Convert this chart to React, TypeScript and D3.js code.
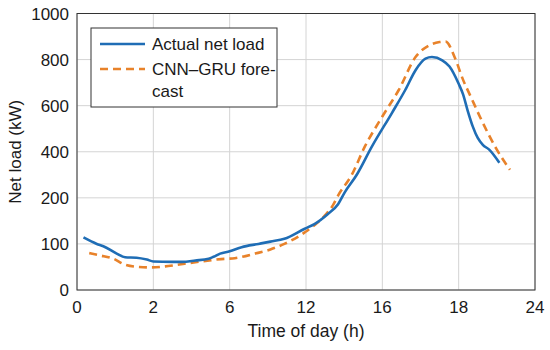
import * as d3 from "d3";

// tick values — both axes are evenly spaced per tick in the source
const xTicks = [0, 2, 6, 12, 16, 18, 24];
const yTicks = [0, 100, 200, 400, 600, 800, 1000];

// actual net load, [hour, kW]
const actualHours = [0.17, 0.52, 0.69, 1.04, 1.26, 1.56, 1.83, 2.0, 2.97, 3.5, 4.2, 4.9, 5.15, 5.5, 6.0, 6.94, 8.26, 9.2, 10.3, 11.9, 12.44, 13.15, 13.68, 14.03, 14.66, 15.45, 16.25, 16.6, 16.87, 17.13, 17.3, 17.57, 17.76, 18.0, 18.34, 18.7, 19.12, 19.5, 19.9, 20.4, 21.2];
const actualLoad = [114, 100, 95, 79, 71, 70, 66, 62, 61, 61, 64, 68, 72, 79, 84, 93, 100, 105, 111, 133, 143, 165, 186, 224, 300, 422, 568, 668, 754, 804, 811, 797, 770, 695, 650, 580, 508, 460, 430, 409, 352];

// CNN-GRU forecast
const forecastHours = [0.32, 0.6, 0.95, 1.26, 1.63, 1.97, 2.78, 3.64, 4.5, 5.55, 6.4, 8.0, 9.2, 10.3, 11.9, 12.97, 13.4, 13.68, 14.38, 15.08, 16.0, 16.43, 16.87, 17.23, 17.5, 17.66, 17.9, 18.34, 19.0, 19.67, 21.0, 22.03];
const forecastLoad = [80, 75, 68, 55, 50, 49, 52, 57, 62, 67, 69, 79, 88, 100, 125, 161, 183, 210, 297, 422, 553, 668, 811, 862, 876, 878, 808, 713, 633, 552, 409, 322];

const W = 550;
const H = 350;
const left = 77;
const right = 535;
const top = 13.5;
const bottom = 290;

const BLUE = "#1f6db5";
const ORANGE = "#e8822a";
const FONT = "'Liberation Sans', Arial, Helvetica, sans-serif";

export default function App() {
  const x = d3
    .scaleLinear()
    .domain(xTicks)
    .range(xTicks.map((_, i) => left + ((right - left) * i) / (xTicks.length - 1)));
  const y = d3
    .scaleLinear()
    .domain(yTicks)
    .range(yTicks.map((_, i) => bottom - ((bottom - top) * i) / (yTicks.length - 1)));

  const line = d3
    .line<[number, number]>()
    .x((d) => x(d[0]))
    .y((d) => y(d[1]))
    .curve(d3.curveMonotoneX);

  const actual = actualHours.map((h, i) => [h, actualLoad[i]] as [number, number]);
  const forecast = forecastHours.map((h, i) => [h, forecastLoad[i]] as [number, number]);

  return (
    <svg
      width={W}
      height={H}
      style={{ position: "absolute", left: 0, top: 0, background: "#fff" }}
      fontFamily={FONT}
    >
      {/* grid */}
      {xTicks.map((t) => (
        <line key={"gx" + t} x1={x(t)} x2={x(t)} y1={top} y2={bottom} stroke="#d4d4d4" strokeWidth={1} />
      ))}
      {yTicks.map((t) => (
        <line key={"gy" + t} x1={left} x2={right} y1={y(t)} y2={y(t)} stroke="#d4d4d4" strokeWidth={1} />
      ))}

      {/* series */}
      <path d={line(forecast) ?? ""} fill="none" stroke={ORANGE} strokeWidth={2.6} strokeDasharray="8,5" />
      <path d={line(actual) ?? ""} fill="none" stroke={BLUE} strokeWidth={2.6} />

      {/* frame */}
      <rect x={left} y={top} width={right - left} height={bottom - top} fill="none" stroke="#333" strokeWidth={1} />

      {/* tick labels */}
      {xTicks.map((t) => (
        <text key={"tx" + t} x={x(t)} y={313} textAnchor="middle" fontSize={17} fill="#1a1a1a">
          {t}
        </text>
      ))}
      {yTicks.map((t) => (
        <text key={"ty" + t} x={69} y={y(t) + 6} textAnchor="end" fontSize={17} fill="#1a1a1a">
          {t}
        </text>
      ))}

      {/* axis titles */}
      <text x={(left + right) / 2} y={337} textAnchor="middle" fontSize={17.5} fill="#1a1a1a">
        Time of day (h)
      </text>
      <text
        transform={`translate(21,${(top + bottom) / 2}) rotate(-90)`}
        textAnchor="middle"
        fontSize={17}
        fill="#1a1a1a"
      >
        Net load (kW)
      </text>

      {/* legend */}
      <rect x={91} y={28} width={186} height={79} fill="#fff" stroke="#333" strokeWidth={1} />
      <line x1={100} x2={145} y1={44} y2={44} stroke={BLUE} strokeWidth={2.6} />
      <text x={152} y={50} fontSize={17} fill="#1a1a1a">
        Actual net load
      </text>
      <line x1={100} x2={145} y1={69} y2={69} stroke={ORANGE} strokeWidth={2.6} strokeDasharray="8,5" />
      <text x={152} y={75} fontSize={17} fill="#1a1a1a">
        CNN–GRU fore-
      </text>
      <text x={152} y={97} fontSize={17} fill="#1a1a1a">
        cast
      </text>
    </svg>
  );
}
